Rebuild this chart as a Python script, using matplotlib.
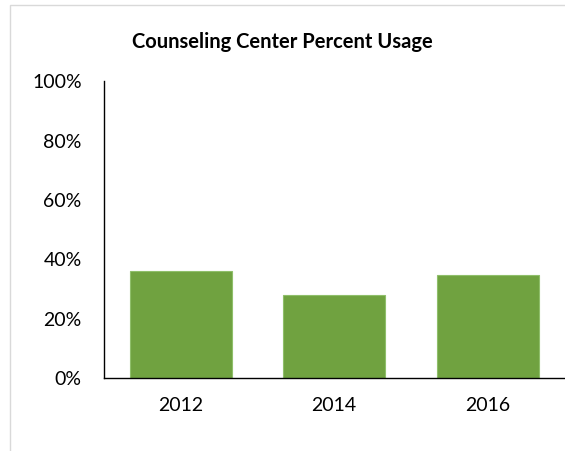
import matplotlib.pyplot as plt
from matplotlib.patches import Rectangle
from matplotlib.ticker import PercentFormatter

# --- Data ---
years = ["2012", "2014", "2016"]
usage = [36.0, 27.9, 34.7]
y_ticks = [0, 20, 40, 60, 80, 100]

plt.rcParams['font.family'] = ['Lato', 'DejaVu Sans']

fig = plt.figure(figsize=(5.65, 4.51), dpi=100)
ax = fig.add_axes([0.184, 0.162, 0.815, 0.658])

# light chart-area border (left and top edges)
fig.patches.append(Rectangle((0.0177, -0.05), 1.2, 1.039, transform=fig.transFigure,
                             facecolor='none', edgecolor='#d9d9d9', linewidth=1))

ax.bar(years, usage, width=0.665, color='#70a240', edgecolor='#8fbf6a', linewidth=0.8)

ax.set_xlim(-0.5, 2.5)
ax.set_ylim(0, 100)
ax.set_yticks(y_ticks)
ax.yaxis.set_major_formatter(PercentFormatter(decimals=0))
ax.tick_params(axis='both', length=0, labelsize=14, colors='black')
ax.tick_params(axis='y', pad=16)
ax.tick_params(axis='x', pad=14)

for side in ['top', 'right']:
    ax.spines[side].set_visible(False)
ax.spines['left'].set_linewidth(1)
ax.spines['bottom'].set_linewidth(1)

fig.text(0.5, 0.907, "Counseling Center Percent Usage", ha='center', va='center',
         fontsize=14.5, fontweight='bold')

fig.savefig("out.png", dpi=100)
